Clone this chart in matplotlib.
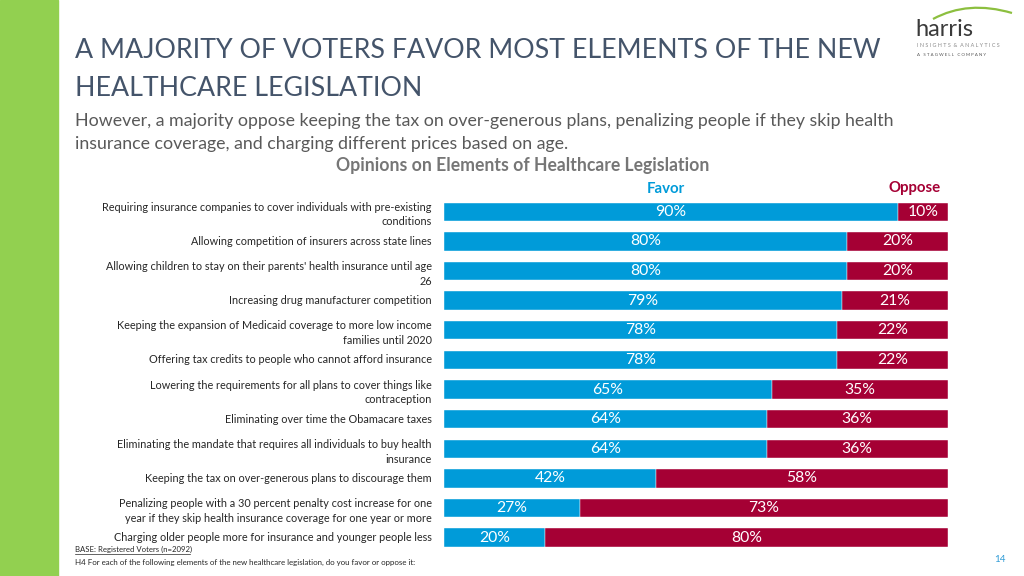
import numpy as np
import matplotlib
matplotlib.use("Agg")
import matplotlib.pyplot as plt
from matplotlib.patches import Rectangle, PathPatch
from matplotlib.path import Path

plt.rcParams['font.family'] = ['Lato', 'DejaVu Sans']

items = [
    "Requiring insurance companies to cover individuals with pre-existing\nconditions",
    "Allowing competition of insurers across state lines",
    "Allowing children to stay on their parents' health insurance until age\n26",
    "Increasing drug manufacturer competition",
    "Keeping the expansion of Medicaid coverage to more low income\nfamilies until 2020",
    "Offering tax credits to people who cannot afford insurance",
    "Lowering the requirements for all plans to cover things like\ncontraception",
    "Eliminating over time the Obamacare taxes",
    "Eliminating the mandate that requires all individuals to buy health\ninsurance",
    "Keeping the tax on over-generous plans to discourage them",
    "Penalizing people with a 30 percent penalty cost increase for one\nyear if they skip health insurance coverage for one year or more",
    "Charging older people more for insurance and younger people less",
]
favor = [90, 80, 80, 79, 78, 78, 65, 64, 64, 42, 27, 20]
oppose = [10, 20, 20, 21, 22, 22, 35, 36, 36, 58, 73, 80]

BLUE = "#009bd9"
RED = "#a50034"
TITLE_C = "#44546a"
GRAY = "#595959"

fig = plt.figure(figsize=(10.24, 5.76), dpi=100)

# green strip on the left
fig.patches.append(Rectangle((0, 0), 58 / 1024, 1, transform=fig.transFigure,
                             color="#92d050", zorder=0))

# titles
fig.text(75 / 1024, 1 - 50 / 576, "A MAJORITY OF VOTERS FAVOR MOST ELEMENTS OF THE NEW",
         fontsize=19.3, color=TITLE_C, va="center", ha="left")
fig.text(75 / 1024, 1 - 89 / 576, "HEALTHCARE LEGISLATION",
         fontsize=19.3, color=TITLE_C, va="center", ha="left")
fig.text(75 / 1024, 1 - 121 / 576,
         "However, a majority oppose keeping the tax on over-generous plans, penalizing people if they skip health",
         fontsize=12.75, color=GRAY, va="center", ha="left")
fig.text(75 / 1024, 1 - 144 / 576,
         "insurance coverage, and charging different prices based on age.",
         fontsize=12.75, color=GRAY, va="center", ha="left")
fig.text(523 / 1024, 1 - 166 / 576, "Opinions on Elements of Healthcare Legislation",
         fontsize=12.7, color="#767676", fontweight="bold", va="center", ha="center")
fig.text(666 / 1024, 1 - 189 / 576, "Favor", fontsize=10.8, color=BLUE,
         fontweight="bold", va="center", ha="center")
fig.text(915 / 1024, 1 - 188 / 576, "Oppose", fontsize=10.8, color=RED,
         fontweight="bold", va="center", ha="center")

# bars
ax = fig.add_axes([444 / 1024, 1 - 552.5 / 576, 504 / 1024, 355.6 / 576])
y = np.arange(len(items))
ax.barh(y, favor, height=0.62, color=BLUE, edgecolor="white", linewidth=0.3)
ax.barh(y, oppose, left=favor, height=0.62, color=RED, edgecolor="white", linewidth=0.3)
for i in range(len(items)):
    ax.text(favor[i] / 2, i, f"{favor[i]}%", color="white", fontsize=11.3,
            ha="center", va="center")
    ax.text(favor[i] + oppose[i] / 2, i, f"{oppose[i]}%", color="white", fontsize=11.3,
            ha="center", va="center")
    ax.text(-2.4, i + (0.1 if "\n" in items[i] else 0), items[i], fontsize=7.85,
            color="#262626", ha="right", va="center", linespacing=1.4)
ax.set_xlim(0, 100)
ax.set_ylim(len(items) - 0.5, -0.5)
ax.axis("off")

# footer
fig.text(75 / 1024, 1 - 549 / 576, "BASE: Registered Voters (n=2092)",
         fontsize=5.6, color="#262626", va="center", ha="left")
fig.add_artist(plt.Line2D([75 / 1024, 190 / 1024], [1 - 553.5 / 576] * 2,
                          transform=fig.transFigure, color="#262626", lw=0.5))
fig.text(75 / 1024, 1 - 562 / 576,
         "H4 For each of the following elements of the new healthcare legislation, do you favor or oppose it:",
         fontsize=5.7, color="#262626", va="center", ha="left")
fig.text(1000 / 1024, 1 - 560 / 576, "14", fontsize=7, color="#2e9bd6",
         va="center", ha="center")

# logo
fig.text(915 / 1024, 1 - 29 / 576, "harris", fontsize=17, color="#3a3a3a",
         va="center", ha="left")
fig.text(917 / 1024, 1 - 45.5 / 576, "I N S I G H T S  &  A N A L Y T I C S",
         fontsize=3.9, color="#8a8a8a", va="center", ha="left")
fig.text(917 / 1024, 1 - 55 / 576, "A   S T A G W E L L   C O M P A N Y",
         fontsize=3.2, color="#555555", va="center", ha="left")
lax = fig.add_axes([900 / 1024, 1 - 40 / 576, 124 / 1024, 40 / 576])
lax.set_xlim(0, 124)
lax.set_ylim(0, 40)
lax.axis("off")
swoosh = Path([(33, 21), (68, 40), (112, 27)], [Path.MOVETO, Path.CURVE3, Path.CURVE3])
lax.add_patch(PathPatch(swoosh, fill=False, edgecolor="#8cbf3f", lw=1.6))

fig.savefig("out.png", dpi=100)
